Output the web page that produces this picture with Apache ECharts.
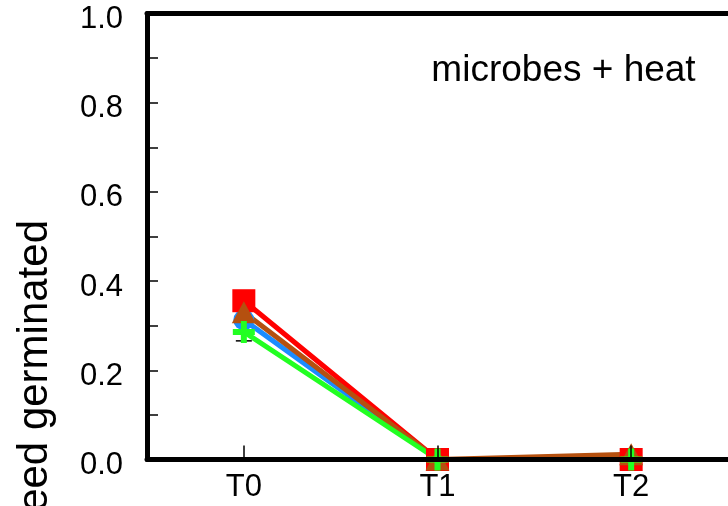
<!DOCTYPE html>
<html>
<head>
<meta charset="utf-8">
<script src="https://cdn.jsdelivr.net/npm/echarts@6/dist/echarts.min.js"></script>
<style>
html,body{margin:0;padding:0;background:#fff;}
#chart{width:728px;height:506px;}
</style>
</head>
<body>
<div id="chart"></div>
<script>
// ---- data ----
var categories = ['T0', 'T1', 'T2'];
var redSquare = [0.356, 0, 0];
var blueCircle = [0.313, 0, 0];
var brownTriangle = [0.33, 0, 0.012];
var greenCross = [0.286, 0, 0];
var greenErrLow = [0.266, null, null];
var greenErrHigh = [0.306, null, null];
var yTicks = [0, 0.2, 0.4, 0.6, 0.8, 1.0];
var panelTitle = 'microbes + heat';
var yTitle = 'seed germinated';

var FONT = '"Liberation Sans", Arial, sans-serif';
var chart = echarts.init(document.getElementById('chart'), null, {renderer: 'canvas'});

var errData = [];
for (var i = 0; i < categories.length; i++) {
  if (greenErrLow[i] != null) errData.push([i, greenErrLow[i], greenErrHigh[i]]);
}

function lineSeries(name, data, color, symbol, size) {
  return {
    name: name, type: 'line', data: data,
    symbol: symbol, symbolSize: size, showSymbol: true,
    lineStyle: {color: color, width: 5},
    itemStyle: {color: color, borderWidth: 0, opacity: 1},
    animation: false, z: 2
  };
}

var plusPath = 'path://M8,0H14V8H22V14H14V22H8V14H0V8H8Z';

chart.setOption({
  animation: false,
  backgroundColor: '#ffffff',
  grid: {left: 147, right: -2, top: 13.5, bottom: 46.5, containLabel: false},
  xAxis: [{
    type: 'category', data: categories, position: 'bottom', boundaryGap: true,
    z: 5,
    axisLine: {show: true, lineStyle: {color: '#000', width: 5}},
    axisTick: {show: true, inside: true, alignWithLabel: true, length: 14, lineStyle: {color: '#000', width: 1.5}},
    axisLabel: {color: '#000', fontSize: 31, fontFamily: FONT, margin: 12},
    splitLine: {show: false}
  }, {
    type: 'category', data: categories, position: 'top', boundaryGap: true,
    z: 5,
    axisLine: {show: true, lineStyle: {color: '#000', width: 5}},
    axisTick: {show: false},
    axisLabel: {show: false},
    splitLine: {show: false}
  }],
  yAxis: {
    type: 'value', min: 0, max: 1, interval: 0.1,
    axisLine: {show: true, lineStyle: {color: '#000', width: 5}},
    axisTick: {show: true, inside: true, length: 11, lineStyle: {color: '#000', width: 1.5}},
    axisLabel: {
      color: '#000', fontSize: 31, fontFamily: FONT, margin: 24,
      verticalAlign: 'top', lineHeight: 12,
      formatter: function (v) {
        for (var k = 0; k < yTicks.length; k++) {
          if (Math.abs(v - yTicks[k]) < 1e-6) return yTicks[k].toFixed(1);
        }
        return '';
      }
    },
    splitLine: {show: false}
  },
  graphic: [{
    type: 'text', x: 563.5, y: 71, z: 10,
    style: {text: panelTitle, fill: '#000', font: '37px ' + FONT, textAlign: 'center', textVerticalAlign: 'middle'}
  }, {
    type: 'text', x: 35, y: 220, rotation: Math.PI / 2, z: 10,
    style: {text: yTitle, fill: '#000', font: '42px ' + FONT, textAlign: 'right', textVerticalAlign: 'middle'}
  }],
  series: [
    {
      type: 'custom', data: errData, z: 1, animation: false,
      renderItem: function (params, api) {
        var x = api.value(0);
        var lo = api.coord([x, api.value(1)]);
        var hi = api.coord([x, api.value(2)]);
        var hw = 8;
        var st = {stroke: '#000', lineWidth: 1.5};
        return {type: 'group', children: [
          {type: 'line', shape: {x1: lo[0], y1: lo[1], x2: hi[0], y2: hi[1]}, style: st},
          {type: 'line', shape: {x1: lo[0] - hw, y1: lo[1], x2: lo[0] + hw, y2: lo[1]}, style: st},
          {type: 'line', shape: {x1: hi[0] - hw, y1: hi[1], x2: hi[0] + hw, y2: hi[1]}, style: st}
        ]};
      }
    },
    lineSeries('blue', blueCircle, '#1a8cff', 'circle', 21),
    lineSeries('red', redSquare, '#ff0000', 'rect', 23),
    lineSeries('brown', brownTriangle, '#b5500f', 'triangle', [24, 22]),
    lineSeries('green', greenCross, '#22ff22', plusPath, 22)
  ]
});
</script>
</body>
</html>
